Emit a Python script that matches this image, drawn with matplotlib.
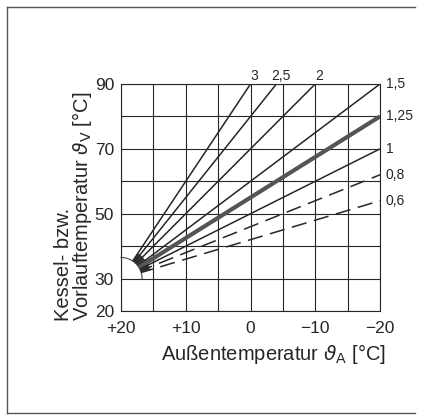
import matplotlib
matplotlib.use("Agg")
import matplotlib.pyplot as plt
import numpy as np
from matplotlib.lines import Line2D

plt.rcParams["font.family"] = ["Liberation Sans", "DejaVu Sans"]
plt.rcParams["mathtext.fontset"] = "dejavusans"

# Heizkennlinien: Steilheit, Beschriftung, Linienart
slopes = [3, 2.5, 2, 1.5, 1.25, 1, 0.8, 0.6]
slope_labels = ["3", "2,5", "2", "1,5", "1,25", "1", "0,8", "0,6"]
dashed = [False, False, False, False, False, False, True, True]
thick = [False, False, False, False, True, False, False, False]

# Fußpunkt (Raumtemperatur / Vorlauf-Fußpunkt) und Bogenradius in °C
foot_ta, foot_tv = 20, 30
arc_rx, arc_ry = 3.25, 6.5

x_ticks = [20, 10, 0, -10, -20]
x_ticklabels = ["+20", "+10", "0", "\u221210", "\u221220"]
y_ticks = [20, 30, 50, 70, 90]
x_lim = (20, -20)
y_lim = (20, 90)

ink = "#262626"

fig = plt.figure(figsize=(4.38, 4.16), dpi=100)
ax = fig.add_axes([0.2763, 0.2524, 0.5913, 0.5457])
ax.set_xlim(*x_lim)
ax.set_ylim(*y_lim)

# grid: every 5 K outside, every 10 K flow
xg = np.arange(-20, 21, 5)
ax.set_xticks(xg)
ax.set_xticklabels([x_ticklabels[x_ticks.index(t)] if t in x_ticks else "" for t in xg])
yg = np.arange(20, 91, 10)
ax.set_yticks(yg)
ax.set_yticklabels([str(t) if t in y_ticks else "" for t in yg])
ax.grid(True, color=ink, linewidth=0.8)
ax.tick_params(length=0, labelsize=12.5, colors=ink)
ax.tick_params(axis="x", pad=7)
ax.tick_params(axis="y", pad=5)
for sp in ax.spines.values():
    sp.set_color(ink)
    sp.set_linewidth(0.8)

# quarter arc around the foot point
th = np.linspace(0, np.pi / 2, 60)
ax.plot(foot_ta - arc_rx * np.cos(th), foot_tv + arc_ry * np.sin(th),
        color="#444444", linewidth=0.8, zorder=3, clip_on=False)

# start of each curve on the arc
u_start = [1 / np.sqrt(1 / arc_rx ** 2 + s ** 2 / arc_ry ** 2) for s in slopes]

# dark bundle where the curves leave the arc
inner = [(foot_ta - u, foot_tv + s * u) for s, u in zip(slopes, u_start)]
outer = [(foot_ta - 1.45 * u, foot_tv + s * 1.45 * u) for s, u in zip(slopes, u_start)]
poly = np.array(inner + outer[::-1])
ax.fill(poly[:, 0], poly[:, 1], color="#3a3a3a", zorder=3, linewidth=0)

for s, lbl, dsh, thk, u0 in zip(slopes, slope_labels, dashed, thick, u_start):
    u1 = min(x_lim[0] - x_lim[1], (y_lim[1] - foot_tv) / s)
    u = np.array([u0, u1])
    ta = foot_ta - u
    tv = foot_tv + s * u
    kw = dict(color=ink, linewidth=1.1, zorder=4, solid_capstyle="butt")
    if thk:
        kw.update(color="#555555", linewidth=3.0)
    if dsh:
        kw.update(linestyle=(2, (10, 5)), linewidth=1.1)
    ax.plot(ta, tv, **kw)
    if tv[1] >= y_lim[1] - 1e-9 and ta[1] > x_lim[1]:
        ax.annotate(lbl, (ta[1], tv[1]), xytext=(3, 1), textcoords="offset points",
                    ha="center", va="bottom", fontsize=10, color=ink,
                    annotation_clip=False)
    else:
        ax.annotate(lbl, (ta[1], tv[1]), xytext=(4, 0), textcoords="offset points",
                    ha="left", va="center", fontsize=10, color=ink,
                    annotation_clip=False)

ax.set_xlabel("Außentemperatur $\\vartheta_\\mathrm{A}$ [°C]", fontsize=14.5,
              color=ink)
ax.xaxis.set_label_coords(0.59, -0.135)

fig.text(74 / 438, 1 - 321 / 416,
         "Kessel- bzw.\nVorlauftemperatur $\\vartheta_\\mathrm{V}$ [°C]",
         rotation=90, rotation_mode="anchor", ha="left", va="center",
         multialignment="left", linespacing=0.8, fontsize=14.5, color=ink)

# page frame
frame = dict(color="#555555", linewidth=1.0, transform=fig.transFigure)
fig.add_artist(Line2D([7 / 438, 7 / 438], [1 - 7 / 416, 1 - 413 / 416], **frame))
fig.add_artist(Line2D([7 / 438, 415 / 438], [1 - 7 / 416, 1 - 7 / 416], **frame))
fig.add_artist(Line2D([7 / 438, 415 / 438], [1 - 413 / 416, 1 - 413 / 416], **frame))

fig.savefig("out.png", dpi=100)
